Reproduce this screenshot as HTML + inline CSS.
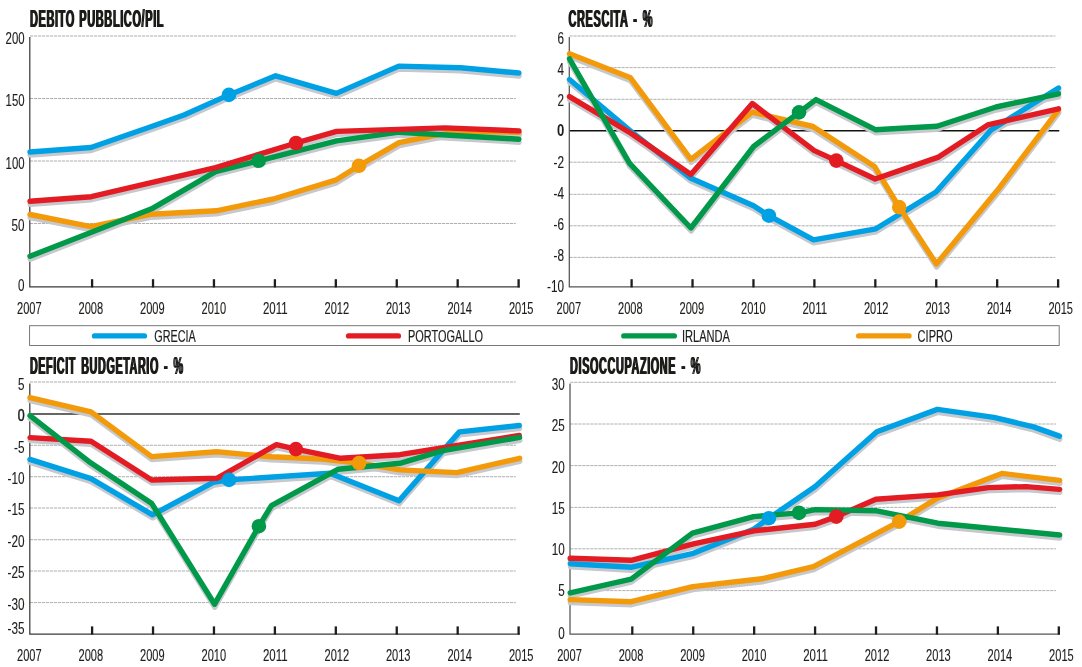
<!DOCTYPE html>
<html lang="it"><head><meta charset="utf-8"><title>Grecia, Portogallo, Irlanda, Cipro</title>
<style>html,body{margin:0;padding:0;background:#fff}svg{display:block;opacity:.999}text{font-family:"Liberation Sans",Arial,Helvetica,sans-serif}</style></head><body>
<svg width="1082" height="667" viewBox="0 0 1082 667">
<defs><filter id="hb" x="-5%" y="-30%" width="110%" height="160%"><feOffset dx="1" dy="0" result="o"/><feMerge><feMergeNode in="SourceGraphic"/><feMergeNode in="o"/></feMerge></filter></defs>
<rect width="1082" height="667" fill="#fff"/>
<line x1="30.0" y1="36.00" x2="515.8" y2="36.00" stroke="#7a7a7a" stroke-width="0.6" stroke-dasharray="3.2 0.8"/>
<line x1="30.0" y1="98.50" x2="515.8" y2="98.50" stroke="#7a7a7a" stroke-width="0.6" stroke-dasharray="3.2 0.8"/>
<line x1="30.0" y1="161.00" x2="515.8" y2="161.00" stroke="#7a7a7a" stroke-width="0.6" stroke-dasharray="3.2 0.8"/>
<line x1="30.0" y1="223.50" x2="515.8" y2="223.50" stroke="#7a7a7a" stroke-width="0.6" stroke-dasharray="3.2 0.8"/>
<path d="M29.80 37.00 V286.80 H519.80" fill="none" stroke="#3a3a39" stroke-width="1.25"/>
<rect x="90.95" y="279.20" width="2.3" height="8.20" fill="#1d1d1b"/>
<rect x="151.88" y="279.20" width="2.3" height="8.20" fill="#1d1d1b"/>
<rect x="212.81" y="279.20" width="2.3" height="8.20" fill="#1d1d1b"/>
<rect x="273.74" y="279.20" width="2.3" height="8.20" fill="#1d1d1b"/>
<rect x="334.67" y="279.20" width="2.3" height="8.20" fill="#1d1d1b"/>
<rect x="395.60" y="279.20" width="2.3" height="8.20" fill="#1d1d1b"/>
<rect x="456.53" y="279.20" width="2.3" height="8.20" fill="#1d1d1b"/>
<rect x="517.46" y="279.20" width="2.3" height="8.20" fill="#1d1d1b"/>
<polyline points="30.0,214.5 90.8,226.6 151.6,214.2 216.3,210.8 273.4,199.0 336.4,179.8 358.9,165.8 399.1,142.7 438.0,134.8 460.0,131.6 518.9,132.2" fill="none" stroke="#c6c8cd" stroke-width="5.4" stroke-linecap="round" stroke-linejoin="round" transform="translate(0.2 3.0)"/>
<polyline points="30.0,152.0 91.0,147.5 153.0,126.0 184.0,115.0 228.9,94.9 275.7,75.8 336.4,93.4 398.8,66.1 460.7,67.8 518.9,73.0" fill="none" stroke="#c6c8cd" stroke-width="5.4" stroke-linecap="round" stroke-linejoin="round" transform="translate(0.2 3.0)"/>
<polyline points="30.0,256.2 151.6,208.8 215.6,171.6 258.7,160.8 336.6,140.8 399.1,132.2 518.9,139.2" fill="none" stroke="#c6c8cd" stroke-width="5.4" stroke-linecap="round" stroke-linejoin="round" transform="translate(0.2 3.0)"/>
<polyline points="30.0,201.2 91.3,196.7 215.6,167.7 296.0,143.0 336.6,131.4 445.0,127.9 518.9,130.9" fill="none" stroke="#c6c8cd" stroke-width="5.4" stroke-linecap="round" stroke-linejoin="round" transform="translate(0.2 3.0)"/>
<polyline points="30.0,214.5 90.8,226.6 151.6,214.2 216.3,210.8 273.4,199.0 336.4,179.8 358.9,165.8 399.1,142.7 438.0,134.8 460.0,131.6 518.9,132.2" fill="none" stroke="#f39a0b" stroke-width="5.4" stroke-linecap="round" stroke-linejoin="round"/>
<polyline points="30.0,152.0 91.0,147.5 153.0,126.0 184.0,115.0 228.9,94.9 275.7,75.8 336.4,93.4 398.8,66.1 460.7,67.8 518.9,73.0" fill="none" stroke="#00a1e4" stroke-width="5.4" stroke-linecap="round" stroke-linejoin="round"/>
<polyline points="30.0,256.2 151.6,208.8 215.6,171.6 258.7,160.8 336.6,140.8 399.1,132.2 518.9,139.2" fill="none" stroke="#009949" stroke-width="5.4" stroke-linecap="round" stroke-linejoin="round"/>
<polyline points="30.0,201.2 91.3,196.7 215.6,167.7 296.0,143.0 336.6,131.4 445.0,127.9 518.9,130.9" fill="none" stroke="#e31b23" stroke-width="5.4" stroke-linecap="round" stroke-linejoin="round"/>
<circle cx="358.9" cy="165.8" r="7.3" fill="#f39a0b"/>
<circle cx="228.9" cy="94.9" r="7.3" fill="#00a1e4"/>
<circle cx="258.7" cy="160.8" r="7.3" fill="#009949"/>
<circle cx="296.0" cy="143.0" r="7.3" fill="#e31b23"/>
<g filter="url(#hb)"><text x="29.4" y="26.7" font-size="23.70" text-anchor="start" font-weight="700" letter-spacing="1.3" word-spacing="1.5" textLength="134.3" lengthAdjust="spacingAndGlyphs" fill="#1a1a18">DEBITO PUBBLICO/PIL</text></g>
<text x="24.6" y="43.8" font-size="15.80" text-anchor="end" textLength="19.0" lengthAdjust="spacingAndGlyphs" stroke="#1d1d1b" stroke-width="0.12" fill="#1d1d1b">200</text>
<text x="24.6" y="106.3" font-size="15.80" text-anchor="end" textLength="19.0" lengthAdjust="spacingAndGlyphs" stroke="#1d1d1b" stroke-width="0.12" fill="#1d1d1b">150</text>
<text x="24.6" y="168.5" font-size="15.80" text-anchor="end" textLength="19.0" lengthAdjust="spacingAndGlyphs" stroke="#1d1d1b" stroke-width="0.12" fill="#1d1d1b">100</text>
<text x="24.6" y="230.5" font-size="15.80" text-anchor="end" textLength="13.0" lengthAdjust="spacingAndGlyphs" stroke="#1d1d1b" stroke-width="0.12" fill="#1d1d1b">50</text>
<text x="24.6" y="291.0" font-size="15.80" text-anchor="end" textLength="6.5" lengthAdjust="spacingAndGlyphs" stroke="#1d1d1b" stroke-width="0.12" fill="#1d1d1b">0</text>
<text x="29.3" y="313.5" font-size="16.00" text-anchor="middle" textLength="24.6" lengthAdjust="spacingAndGlyphs" stroke="#1d1d1b" stroke-width="0.12" fill="#1d1d1b">2007</text>
<text x="90.8" y="313.5" font-size="16.00" text-anchor="middle" textLength="24.6" lengthAdjust="spacingAndGlyphs" stroke="#1d1d1b" stroke-width="0.12" fill="#1d1d1b">2008</text>
<text x="152.3" y="313.5" font-size="16.00" text-anchor="middle" textLength="24.6" lengthAdjust="spacingAndGlyphs" stroke="#1d1d1b" stroke-width="0.12" fill="#1d1d1b">2009</text>
<text x="213.8" y="313.5" font-size="16.00" text-anchor="middle" textLength="24.6" lengthAdjust="spacingAndGlyphs" stroke="#1d1d1b" stroke-width="0.12" fill="#1d1d1b">2010</text>
<text x="275.3" y="313.5" font-size="16.00" text-anchor="middle" textLength="24.6" lengthAdjust="spacingAndGlyphs" stroke="#1d1d1b" stroke-width="0.12" fill="#1d1d1b">2011</text>
<text x="336.8" y="313.5" font-size="16.00" text-anchor="middle" textLength="24.6" lengthAdjust="spacingAndGlyphs" stroke="#1d1d1b" stroke-width="0.12" fill="#1d1d1b">2012</text>
<text x="398.2" y="313.5" font-size="16.00" text-anchor="middle" textLength="24.6" lengthAdjust="spacingAndGlyphs" stroke="#1d1d1b" stroke-width="0.12" fill="#1d1d1b">2013</text>
<text x="459.7" y="313.5" font-size="16.00" text-anchor="middle" textLength="24.6" lengthAdjust="spacingAndGlyphs" stroke="#1d1d1b" stroke-width="0.12" fill="#1d1d1b">2014</text>
<text x="521.2" y="313.5" font-size="16.00" text-anchor="middle" textLength="24.6" lengthAdjust="spacingAndGlyphs" stroke="#1d1d1b" stroke-width="0.12" fill="#1d1d1b">2015</text>
<line x1="569.5" y1="36.00" x2="1055.3" y2="36.00" stroke="#7a7a7a" stroke-width="0.6" stroke-dasharray="3.2 0.8"/>
<line x1="569.5" y1="67.60" x2="1055.3" y2="67.60" stroke="#7a7a7a" stroke-width="0.6" stroke-dasharray="3.2 0.8"/>
<line x1="569.5" y1="99.30" x2="1055.3" y2="99.30" stroke="#7a7a7a" stroke-width="0.6" stroke-dasharray="3.2 0.8"/>
<line x1="569.5" y1="162.20" x2="1055.3" y2="162.20" stroke="#7a7a7a" stroke-width="0.6" stroke-dasharray="3.2 0.8"/>
<line x1="569.5" y1="194.30" x2="1055.3" y2="194.30" stroke="#7a7a7a" stroke-width="0.6" stroke-dasharray="3.2 0.8"/>
<line x1="569.5" y1="225.80" x2="1055.3" y2="225.80" stroke="#7a7a7a" stroke-width="0.6" stroke-dasharray="3.2 0.8"/>
<line x1="569.5" y1="257.40" x2="1055.3" y2="257.40" stroke="#7a7a7a" stroke-width="0.6" stroke-dasharray="3.2 0.8"/>
<line x1="569.5" y1="130.70" x2="1059.3" y2="130.70" stroke="#111110" stroke-width="1.40"/>
<path d="M569.30 37.00 V286.80 H1059.30" fill="none" stroke="#555554" stroke-width="1.25"/>
<rect x="630.45" y="279.20" width="2.3" height="8.20" fill="#1d1d1b"/>
<rect x="691.38" y="279.20" width="2.3" height="8.20" fill="#1d1d1b"/>
<rect x="752.31" y="279.20" width="2.3" height="8.20" fill="#1d1d1b"/>
<rect x="813.24" y="279.20" width="2.3" height="8.20" fill="#1d1d1b"/>
<rect x="874.17" y="279.20" width="2.3" height="8.20" fill="#1d1d1b"/>
<rect x="935.10" y="279.20" width="2.3" height="8.20" fill="#1d1d1b"/>
<rect x="996.03" y="279.20" width="2.3" height="8.20" fill="#1d1d1b"/>
<rect x="1056.96" y="279.20" width="2.3" height="8.20" fill="#1d1d1b"/>
<polyline points="569.5,79.5 630.0,130.5 690.9,178.3 753.6,205.7 768.9,215.7 813.5,239.9 875.9,228.8 936.0,192.0 991.0,130.0 1058.5,88.0" fill="none" stroke="#c6c8cd" stroke-width="5.4" stroke-linecap="round" stroke-linejoin="round" transform="translate(0.2 3.0)"/>
<polyline points="569.5,53.8 630.5,77.8 690.9,159.4 752.3,112.2 813.0,126.5 874.5,166.5 899.2,207.1 936.4,264.0 997.0,190.8 1058.5,110.0" fill="none" stroke="#c6c8cd" stroke-width="5.4" stroke-linecap="round" stroke-linejoin="round" transform="translate(0.2 3.0)"/>
<polyline points="569.5,96.6 630.5,133.0 690.9,174.5 752.3,103.5 814.3,150.6 836.3,160.6 875.1,179.0 937.8,157.4 987.7,124.9 1058.5,108.8" fill="none" stroke="#c6c8cd" stroke-width="5.4" stroke-linecap="round" stroke-linejoin="round" transform="translate(0.2 3.0)"/>
<polyline points="569.5,58.8 629.6,163.3 690.9,228.0 753.6,146.5 799.0,112.4 816.0,99.6 875.3,129.7 937.0,126.3 996.0,107.0 1058.5,93.8" fill="none" stroke="#c6c8cd" stroke-width="5.4" stroke-linecap="round" stroke-linejoin="round" transform="translate(0.2 3.0)"/>
<polyline points="569.5,79.5 630.0,130.5 690.9,178.3 753.6,205.7 768.9,215.7 813.5,239.9 875.9,228.8 936.0,192.0 991.0,130.0 1058.5,88.0" fill="none" stroke="#00a1e4" stroke-width="5.4" stroke-linecap="round" stroke-linejoin="round"/>
<polyline points="569.5,53.8 630.5,77.8 690.9,159.4 752.3,112.2 813.0,126.5 874.5,166.5 899.2,207.1 936.4,264.0 997.0,190.8 1058.5,110.0" fill="none" stroke="#f39a0b" stroke-width="5.4" stroke-linecap="round" stroke-linejoin="round"/>
<polyline points="569.5,96.6 630.5,133.0 690.9,174.5 752.3,103.5 814.3,150.6 836.3,160.6 875.1,179.0 937.8,157.4 987.7,124.9 1058.5,108.8" fill="none" stroke="#e31b23" stroke-width="5.4" stroke-linecap="round" stroke-linejoin="round"/>
<polyline points="569.5,58.8 629.6,163.3 690.9,228.0 753.6,146.5 799.0,112.4 816.0,99.6 875.3,129.7 937.0,126.3 996.0,107.0 1058.5,93.8" fill="none" stroke="#009949" stroke-width="5.4" stroke-linecap="round" stroke-linejoin="round"/>
<circle cx="768.9" cy="215.7" r="7.3" fill="#00a1e4"/>
<circle cx="899.2" cy="207.1" r="7.3" fill="#f39a0b"/>
<circle cx="836.3" cy="160.6" r="7.3" fill="#e31b23"/>
<circle cx="799.0" cy="112.4" r="7.3" fill="#009949"/>
<g filter="url(#hb)"><text x="568.1" y="26.7" font-size="23.70" text-anchor="start" font-weight="700" letter-spacing="1.3" word-spacing="3.5" textLength="84.6" lengthAdjust="spacingAndGlyphs" fill="#1a1a18">CRESCITA - %</text></g>
<text x="564.1" y="43.6" font-size="15.80" text-anchor="end" textLength="6.5" lengthAdjust="spacingAndGlyphs" stroke="#1d1d1b" stroke-width="0.12" fill="#1d1d1b">6</text>
<text x="564.1" y="74.7" font-size="15.80" text-anchor="end" textLength="6.5" lengthAdjust="spacingAndGlyphs" stroke="#1d1d1b" stroke-width="0.12" fill="#1d1d1b">4</text>
<text x="564.1" y="105.7" font-size="15.80" text-anchor="end" textLength="6.5" lengthAdjust="spacingAndGlyphs" stroke="#1d1d1b" stroke-width="0.12" fill="#1d1d1b">2</text>
<text x="564.3" y="136.2" font-size="15.80" text-anchor="end" font-weight="700" textLength="7.3" lengthAdjust="spacingAndGlyphs" fill="#1d1d1b">0</text>
<text x="564.1" y="167.9" font-size="15.80" text-anchor="end" textLength="10.5" lengthAdjust="spacingAndGlyphs" stroke="#1d1d1b" stroke-width="0.12" fill="#1d1d1b">-2</text>
<text x="564.1" y="198.9" font-size="15.80" text-anchor="end" textLength="10.5" lengthAdjust="spacingAndGlyphs" stroke="#1d1d1b" stroke-width="0.12" fill="#1d1d1b">-4</text>
<text x="564.1" y="230.0" font-size="15.80" text-anchor="end" textLength="10.5" lengthAdjust="spacingAndGlyphs" stroke="#1d1d1b" stroke-width="0.12" fill="#1d1d1b">-6</text>
<text x="564.1" y="261.0" font-size="15.80" text-anchor="end" textLength="10.5" lengthAdjust="spacingAndGlyphs" stroke="#1d1d1b" stroke-width="0.12" fill="#1d1d1b">-8</text>
<text x="564.1" y="292.2" font-size="15.80" text-anchor="end" textLength="17.0" lengthAdjust="spacingAndGlyphs" stroke="#1d1d1b" stroke-width="0.12" fill="#1d1d1b">-10</text>
<text x="568.8" y="313.6" font-size="16.00" text-anchor="middle" textLength="24.6" lengthAdjust="spacingAndGlyphs" stroke="#1d1d1b" stroke-width="0.12" fill="#1d1d1b">2007</text>
<text x="630.3" y="313.6" font-size="16.00" text-anchor="middle" textLength="24.6" lengthAdjust="spacingAndGlyphs" stroke="#1d1d1b" stroke-width="0.12" fill="#1d1d1b">2008</text>
<text x="691.8" y="313.6" font-size="16.00" text-anchor="middle" textLength="24.6" lengthAdjust="spacingAndGlyphs" stroke="#1d1d1b" stroke-width="0.12" fill="#1d1d1b">2009</text>
<text x="753.3" y="313.6" font-size="16.00" text-anchor="middle" textLength="24.6" lengthAdjust="spacingAndGlyphs" stroke="#1d1d1b" stroke-width="0.12" fill="#1d1d1b">2010</text>
<text x="814.8" y="313.6" font-size="16.00" text-anchor="middle" textLength="24.6" lengthAdjust="spacingAndGlyphs" stroke="#1d1d1b" stroke-width="0.12" fill="#1d1d1b">2011</text>
<text x="876.2" y="313.6" font-size="16.00" text-anchor="middle" textLength="24.6" lengthAdjust="spacingAndGlyphs" stroke="#1d1d1b" stroke-width="0.12" fill="#1d1d1b">2012</text>
<text x="937.7" y="313.6" font-size="16.00" text-anchor="middle" textLength="24.6" lengthAdjust="spacingAndGlyphs" stroke="#1d1d1b" stroke-width="0.12" fill="#1d1d1b">2013</text>
<text x="999.2" y="313.6" font-size="16.00" text-anchor="middle" textLength="24.6" lengthAdjust="spacingAndGlyphs" stroke="#1d1d1b" stroke-width="0.12" fill="#1d1d1b">2014</text>
<text x="1060.7" y="313.6" font-size="16.00" text-anchor="middle" textLength="24.6" lengthAdjust="spacingAndGlyphs" stroke="#1d1d1b" stroke-width="0.12" fill="#1d1d1b">2015</text>
<line x1="30.0" y1="382.00" x2="515.8" y2="382.00" stroke="#7a7a7a" stroke-width="0.6" stroke-dasharray="3.2 0.8"/>
<line x1="30.0" y1="445.30" x2="515.8" y2="445.30" stroke="#7a7a7a" stroke-width="0.6" stroke-dasharray="3.2 0.8"/>
<line x1="30.0" y1="476.70" x2="515.8" y2="476.70" stroke="#7a7a7a" stroke-width="0.6" stroke-dasharray="3.2 0.8"/>
<line x1="30.0" y1="508.00" x2="515.8" y2="508.00" stroke="#7a7a7a" stroke-width="0.6" stroke-dasharray="3.2 0.8"/>
<line x1="30.0" y1="539.70" x2="515.8" y2="539.70" stroke="#7a7a7a" stroke-width="0.6" stroke-dasharray="3.2 0.8"/>
<line x1="30.0" y1="571.00" x2="515.8" y2="571.00" stroke="#7a7a7a" stroke-width="0.6" stroke-dasharray="3.2 0.8"/>
<line x1="30.0" y1="602.60" x2="515.8" y2="602.60" stroke="#7a7a7a" stroke-width="0.6" stroke-dasharray="3.2 0.8"/>
<line x1="30.0" y1="414.00" x2="519.8" y2="414.00" stroke="#333332" stroke-width="1.70"/>
<path d="M29.80 383.50 V634.00 H519.80" fill="none" stroke="#3a3a39" stroke-width="1.25"/>
<rect x="90.95" y="626.40" width="2.3" height="8.20" fill="#1d1d1b"/>
<rect x="151.88" y="626.40" width="2.3" height="8.20" fill="#1d1d1b"/>
<rect x="212.81" y="626.40" width="2.3" height="8.20" fill="#1d1d1b"/>
<rect x="273.74" y="626.40" width="2.3" height="8.20" fill="#1d1d1b"/>
<rect x="334.67" y="626.40" width="2.3" height="8.20" fill="#1d1d1b"/>
<rect x="395.60" y="626.40" width="2.3" height="8.20" fill="#1d1d1b"/>
<rect x="456.53" y="626.40" width="2.3" height="8.20" fill="#1d1d1b"/>
<rect x="517.46" y="626.40" width="2.3" height="8.20" fill="#1d1d1b"/>
<polyline points="30.0,459.4 91.0,478.6 152.5,514.8 213.2,482.4 229.0,479.9 330.0,473.3 399.0,500.8 459.4,431.9 519.3,425.5" fill="none" stroke="#c6c8cd" stroke-width="5.4" stroke-linecap="round" stroke-linejoin="round" transform="translate(0.2 3.0)"/>
<polyline points="30.0,397.6 91.0,411.9 151.6,456.6 216.5,451.8 271.4,456.8 322.0,459.0 359.1,463.0 399.8,469.9 456.9,472.6 519.6,458.3" fill="none" stroke="#c6c8cd" stroke-width="5.4" stroke-linecap="round" stroke-linejoin="round" transform="translate(0.2 3.0)"/>
<polyline points="30.0,437.6 91.0,441.3 151.6,480.0 217.2,478.2 276.4,444.7 295.9,449.1 340.8,458.3 399.8,454.7 519.3,435.4" fill="none" stroke="#c6c8cd" stroke-width="5.4" stroke-linecap="round" stroke-linejoin="round" transform="translate(0.2 3.0)"/>
<polyline points="30.0,415.7 91.0,463.1 151.8,503.6 214.6,604.2 258.9,526.2 271.4,505.7 338.3,469.2 399.8,463.3 443.0,450.7 519.6,437.4" fill="none" stroke="#c6c8cd" stroke-width="5.4" stroke-linecap="round" stroke-linejoin="round" transform="translate(0.2 3.0)"/>
<polyline points="30.0,459.4 91.0,478.6 152.5,514.8 213.2,482.4 229.0,479.9 330.0,473.3 399.0,500.8 459.4,431.9 519.3,425.5" fill="none" stroke="#00a1e4" stroke-width="5.4" stroke-linecap="round" stroke-linejoin="round"/>
<polyline points="30.0,397.6 91.0,411.9 151.6,456.6 216.5,451.8 271.4,456.8 322.0,459.0 359.1,463.0 399.8,469.9 456.9,472.6 519.6,458.3" fill="none" stroke="#f39a0b" stroke-width="5.4" stroke-linecap="round" stroke-linejoin="round"/>
<polyline points="30.0,437.6 91.0,441.3 151.6,480.0 217.2,478.2 276.4,444.7 295.9,449.1 340.8,458.3 399.8,454.7 519.3,435.4" fill="none" stroke="#e31b23" stroke-width="5.4" stroke-linecap="round" stroke-linejoin="round"/>
<polyline points="30.0,415.7 91.0,463.1 151.8,503.6 214.6,604.2 258.9,526.2 271.4,505.7 338.3,469.2 399.8,463.3 443.0,450.7 519.6,437.4" fill="none" stroke="#009949" stroke-width="5.4" stroke-linecap="round" stroke-linejoin="round"/>
<circle cx="229.0" cy="479.9" r="7.3" fill="#00a1e4"/>
<circle cx="359.1" cy="463.0" r="7.3" fill="#f39a0b"/>
<circle cx="295.9" cy="449.1" r="7.3" fill="#e31b23"/>
<circle cx="258.9" cy="526.2" r="7.3" fill="#009949"/>
<g filter="url(#hb)"><text x="29.4" y="374.0" font-size="23.70" text-anchor="start" font-weight="700" letter-spacing="1.3" word-spacing="3.5" textLength="153.8" lengthAdjust="spacingAndGlyphs" fill="#1a1a18">DEFICIT BUDGETARIO - %</text></g>
<text x="24.6" y="390.2" font-size="15.80" text-anchor="end" textLength="6.5" lengthAdjust="spacingAndGlyphs" stroke="#1d1d1b" stroke-width="0.12" fill="#1d1d1b">5</text>
<text x="24.7" y="421.3" font-size="15.80" text-anchor="end" textLength="6.9" lengthAdjust="spacingAndGlyphs" stroke="#1d1d1b" stroke-width="0.55" fill="#1d1d1b">0</text>
<text x="24.6" y="452.7" font-size="15.80" text-anchor="end" textLength="10.5" lengthAdjust="spacingAndGlyphs" stroke="#1d1d1b" stroke-width="0.12" fill="#1d1d1b">-5</text>
<text x="24.6" y="484.0" font-size="15.80" text-anchor="end" textLength="17.0" lengthAdjust="spacingAndGlyphs" stroke="#1d1d1b" stroke-width="0.12" fill="#1d1d1b">-10</text>
<text x="24.6" y="515.3" font-size="15.80" text-anchor="end" textLength="17.0" lengthAdjust="spacingAndGlyphs" stroke="#1d1d1b" stroke-width="0.12" fill="#1d1d1b">-15</text>
<text x="24.6" y="546.7" font-size="15.80" text-anchor="end" textLength="17.0" lengthAdjust="spacingAndGlyphs" stroke="#1d1d1b" stroke-width="0.12" fill="#1d1d1b">-20</text>
<text x="24.6" y="578.1" font-size="15.80" text-anchor="end" textLength="17.0" lengthAdjust="spacingAndGlyphs" stroke="#1d1d1b" stroke-width="0.12" fill="#1d1d1b">-25</text>
<text x="24.6" y="609.5" font-size="15.80" text-anchor="end" textLength="17.0" lengthAdjust="spacingAndGlyphs" stroke="#1d1d1b" stroke-width="0.12" fill="#1d1d1b">-30</text>
<text x="24.6" y="634.2" font-size="15.80" text-anchor="end" textLength="17.0" lengthAdjust="spacingAndGlyphs" stroke="#1d1d1b" stroke-width="0.12" fill="#1d1d1b">-35</text>
<text x="29.3" y="660.7" font-size="16.00" text-anchor="middle" textLength="24.6" lengthAdjust="spacingAndGlyphs" stroke="#1d1d1b" stroke-width="0.12" fill="#1d1d1b">2007</text>
<text x="90.8" y="660.7" font-size="16.00" text-anchor="middle" textLength="24.6" lengthAdjust="spacingAndGlyphs" stroke="#1d1d1b" stroke-width="0.12" fill="#1d1d1b">2008</text>
<text x="152.3" y="660.7" font-size="16.00" text-anchor="middle" textLength="24.6" lengthAdjust="spacingAndGlyphs" stroke="#1d1d1b" stroke-width="0.12" fill="#1d1d1b">2009</text>
<text x="213.8" y="660.7" font-size="16.00" text-anchor="middle" textLength="24.6" lengthAdjust="spacingAndGlyphs" stroke="#1d1d1b" stroke-width="0.12" fill="#1d1d1b">2010</text>
<text x="275.3" y="660.7" font-size="16.00" text-anchor="middle" textLength="24.6" lengthAdjust="spacingAndGlyphs" stroke="#1d1d1b" stroke-width="0.12" fill="#1d1d1b">2011</text>
<text x="336.8" y="660.7" font-size="16.00" text-anchor="middle" textLength="24.6" lengthAdjust="spacingAndGlyphs" stroke="#1d1d1b" stroke-width="0.12" fill="#1d1d1b">2012</text>
<text x="398.2" y="660.7" font-size="16.00" text-anchor="middle" textLength="24.6" lengthAdjust="spacingAndGlyphs" stroke="#1d1d1b" stroke-width="0.12" fill="#1d1d1b">2013</text>
<text x="459.7" y="660.7" font-size="16.00" text-anchor="middle" textLength="24.6" lengthAdjust="spacingAndGlyphs" stroke="#1d1d1b" stroke-width="0.12" fill="#1d1d1b">2014</text>
<text x="521.2" y="660.7" font-size="16.00" text-anchor="middle" textLength="24.6" lengthAdjust="spacingAndGlyphs" stroke="#1d1d1b" stroke-width="0.12" fill="#1d1d1b">2015</text>
<line x1="570.2" y1="382.30" x2="1056.0" y2="382.30" stroke="#7a7a7a" stroke-width="0.6" stroke-dasharray="3.2 0.8"/>
<line x1="570.2" y1="424.00" x2="1056.0" y2="424.00" stroke="#7a7a7a" stroke-width="0.6" stroke-dasharray="3.2 0.8"/>
<line x1="570.2" y1="465.60" x2="1056.0" y2="465.60" stroke="#7a7a7a" stroke-width="0.6" stroke-dasharray="3.2 0.8"/>
<line x1="570.2" y1="507.40" x2="1056.0" y2="507.40" stroke="#7a7a7a" stroke-width="0.6" stroke-dasharray="3.2 0.8"/>
<line x1="570.2" y1="548.80" x2="1056.0" y2="548.80" stroke="#7a7a7a" stroke-width="0.6" stroke-dasharray="3.2 0.8"/>
<line x1="570.2" y1="590.60" x2="1056.0" y2="590.60" stroke="#7a7a7a" stroke-width="0.6" stroke-dasharray="3.2 0.8"/>
<path d="M570.00 383.50 V634.00 H1060.00" fill="none" stroke="#555554" stroke-width="1.25"/>
<rect x="631.15" y="626.40" width="2.3" height="8.20" fill="#1d1d1b"/>
<rect x="692.08" y="626.40" width="2.3" height="8.20" fill="#1d1d1b"/>
<rect x="753.01" y="626.40" width="2.3" height="8.20" fill="#1d1d1b"/>
<rect x="813.94" y="626.40" width="2.3" height="8.20" fill="#1d1d1b"/>
<rect x="874.87" y="626.40" width="2.3" height="8.20" fill="#1d1d1b"/>
<rect x="935.80" y="626.40" width="2.3" height="8.20" fill="#1d1d1b"/>
<rect x="996.73" y="626.40" width="2.3" height="8.20" fill="#1d1d1b"/>
<rect x="1057.66" y="626.40" width="2.3" height="8.20" fill="#1d1d1b"/>
<polyline points="570.2,563.7 631.9,567.2 693.4,553.3 753.6,529.2 768.9,518.2 815.2,486.6 876.8,431.8 937.4,409.4 993.9,417.3 1033.5,426.9 1059.5,436.1" fill="none" stroke="#c6c8cd" stroke-width="5.4" stroke-linecap="round" stroke-linejoin="round" transform="translate(0.2 3.0)"/>
<polyline points="570.2,599.6 631.2,601.7 692.8,586.6 762.0,578.8 813.5,566.6 899.2,521.6 937.8,497.9 1001.8,473.4 1059.7,480.4" fill="none" stroke="#c6c8cd" stroke-width="5.4" stroke-linecap="round" stroke-linejoin="round" transform="translate(0.2 3.0)"/>
<polyline points="570.2,558.3 631.2,560.3 693.5,543.8 754.0,530.8 815.2,524.2 836.3,516.6 875.9,499.2 937.8,494.9 988.5,487.6 1026.0,486.6 1059.7,489.4" fill="none" stroke="#c6c8cd" stroke-width="5.4" stroke-linecap="round" stroke-linejoin="round" transform="translate(0.2 3.0)"/>
<polyline points="570.2,592.9 631.2,579.1 692.4,533.2 753.6,516.6 799.0,512.9 815.2,509.6 876.7,510.8 937.8,523.2 1059.7,535.0" fill="none" stroke="#c6c8cd" stroke-width="5.4" stroke-linecap="round" stroke-linejoin="round" transform="translate(0.2 3.0)"/>
<polyline points="570.2,563.7 631.9,567.2 693.4,553.3 753.6,529.2 768.9,518.2 815.2,486.6 876.8,431.8 937.4,409.4 993.9,417.3 1033.5,426.9 1059.5,436.1" fill="none" stroke="#00a1e4" stroke-width="5.4" stroke-linecap="round" stroke-linejoin="round"/>
<polyline points="570.2,599.6 631.2,601.7 692.8,586.6 762.0,578.8 813.5,566.6 899.2,521.6 937.8,497.9 1001.8,473.4 1059.7,480.4" fill="none" stroke="#f39a0b" stroke-width="5.4" stroke-linecap="round" stroke-linejoin="round"/>
<polyline points="570.2,558.3 631.2,560.3 693.5,543.8 754.0,530.8 815.2,524.2 836.3,516.6 875.9,499.2 937.8,494.9 988.5,487.6 1026.0,486.6 1059.7,489.4" fill="none" stroke="#e31b23" stroke-width="5.4" stroke-linecap="round" stroke-linejoin="round"/>
<polyline points="570.2,592.9 631.2,579.1 692.4,533.2 753.6,516.6 799.0,512.9 815.2,509.6 876.7,510.8 937.8,523.2 1059.7,535.0" fill="none" stroke="#009949" stroke-width="5.4" stroke-linecap="round" stroke-linejoin="round"/>
<circle cx="768.9" cy="518.2" r="7.3" fill="#00a1e4"/>
<circle cx="899.2" cy="521.6" r="7.3" fill="#f39a0b"/>
<circle cx="836.3" cy="516.6" r="7.3" fill="#e31b23"/>
<circle cx="799.0" cy="512.9" r="7.3" fill="#009949"/>
<g filter="url(#hb)"><text x="569.6" y="374.0" font-size="23.70" text-anchor="start" font-weight="700" letter-spacing="1.3" word-spacing="3.5" textLength="131.0" lengthAdjust="spacingAndGlyphs" fill="#1a1a18">DISOCCUPAZIONE - %</text></g>
<text x="564.8" y="390.2" font-size="15.80" text-anchor="end" textLength="13.0" lengthAdjust="spacingAndGlyphs" stroke="#1d1d1b" stroke-width="0.12" fill="#1d1d1b">30</text>
<text x="564.8" y="431.4" font-size="15.80" text-anchor="end" textLength="13.0" lengthAdjust="spacingAndGlyphs" stroke="#1d1d1b" stroke-width="0.12" fill="#1d1d1b">25</text>
<text x="564.8" y="472.5" font-size="15.80" text-anchor="end" textLength="13.0" lengthAdjust="spacingAndGlyphs" stroke="#1d1d1b" stroke-width="0.12" fill="#1d1d1b">20</text>
<text x="564.8" y="513.7" font-size="15.80" text-anchor="end" textLength="13.0" lengthAdjust="spacingAndGlyphs" stroke="#1d1d1b" stroke-width="0.12" fill="#1d1d1b">15</text>
<text x="564.8" y="554.8" font-size="15.80" text-anchor="end" textLength="13.0" lengthAdjust="spacingAndGlyphs" stroke="#1d1d1b" stroke-width="0.12" fill="#1d1d1b">10</text>
<text x="564.8" y="595.9" font-size="15.80" text-anchor="end" textLength="6.5" lengthAdjust="spacingAndGlyphs" stroke="#1d1d1b" stroke-width="0.12" fill="#1d1d1b">5</text>
<text x="564.8" y="639.2" font-size="15.80" text-anchor="end" textLength="6.5" lengthAdjust="spacingAndGlyphs" stroke="#1d1d1b" stroke-width="0.12" fill="#1d1d1b">0</text>
<text x="569.5" y="660.7" font-size="16.00" text-anchor="middle" textLength="24.6" lengthAdjust="spacingAndGlyphs" stroke="#1d1d1b" stroke-width="0.12" fill="#1d1d1b">2007</text>
<text x="631.0" y="660.7" font-size="16.00" text-anchor="middle" textLength="24.6" lengthAdjust="spacingAndGlyphs" stroke="#1d1d1b" stroke-width="0.12" fill="#1d1d1b">2008</text>
<text x="692.5" y="660.7" font-size="16.00" text-anchor="middle" textLength="24.6" lengthAdjust="spacingAndGlyphs" stroke="#1d1d1b" stroke-width="0.12" fill="#1d1d1b">2009</text>
<text x="754.0" y="660.7" font-size="16.00" text-anchor="middle" textLength="24.6" lengthAdjust="spacingAndGlyphs" stroke="#1d1d1b" stroke-width="0.12" fill="#1d1d1b">2010</text>
<text x="815.5" y="660.7" font-size="16.00" text-anchor="middle" textLength="24.6" lengthAdjust="spacingAndGlyphs" stroke="#1d1d1b" stroke-width="0.12" fill="#1d1d1b">2011</text>
<text x="877.0" y="660.7" font-size="16.00" text-anchor="middle" textLength="24.6" lengthAdjust="spacingAndGlyphs" stroke="#1d1d1b" stroke-width="0.12" fill="#1d1d1b">2012</text>
<text x="938.4" y="660.7" font-size="16.00" text-anchor="middle" textLength="24.6" lengthAdjust="spacingAndGlyphs" stroke="#1d1d1b" stroke-width="0.12" fill="#1d1d1b">2013</text>
<text x="999.9" y="660.7" font-size="16.00" text-anchor="middle" textLength="24.6" lengthAdjust="spacingAndGlyphs" stroke="#1d1d1b" stroke-width="0.12" fill="#1d1d1b">2014</text>
<text x="1061.4" y="660.7" font-size="16.00" text-anchor="middle" textLength="24.6" lengthAdjust="spacingAndGlyphs" stroke="#1d1d1b" stroke-width="0.12" fill="#1d1d1b">2015</text>
<rect x="29.6" y="325.7" width="1029.6" height="19.8" fill="#fff" stroke="#6a6a6a" stroke-width="0.9"/>
<line x1="94.5" y1="335.9" x2="144.4" y2="335.9" stroke="#00a1e4" stroke-width="5.4" stroke-linecap="round"/>
<text x="154.3" y="341.8" font-size="16.80" text-anchor="start" textLength="41.5" lengthAdjust="spacingAndGlyphs" stroke="#1d1d1b" stroke-width="0.20" fill="#1d1d1b">GRECIA</text>
<line x1="348.6" y1="335.9" x2="398.4" y2="335.9" stroke="#e31b23" stroke-width="5.4" stroke-linecap="round"/>
<text x="408.0" y="341.8" font-size="16.80" text-anchor="start" textLength="75.0" lengthAdjust="spacingAndGlyphs" stroke="#1d1d1b" stroke-width="0.20" fill="#1d1d1b">PORTOGALLO</text>
<line x1="623.8" y1="335.9" x2="674.3" y2="335.9" stroke="#009949" stroke-width="5.4" stroke-linecap="round"/>
<text x="682.0" y="341.8" font-size="16.80" text-anchor="start" textLength="48.0" lengthAdjust="spacingAndGlyphs" stroke="#1d1d1b" stroke-width="0.20" fill="#1d1d1b">IRLANDA</text>
<line x1="858.7" y1="335.9" x2="909.0" y2="335.9" stroke="#f39a0b" stroke-width="5.4" stroke-linecap="round"/>
<text x="917.6" y="341.8" font-size="16.80" text-anchor="start" textLength="35.0" lengthAdjust="spacingAndGlyphs" stroke="#1d1d1b" stroke-width="0.20" fill="#1d1d1b">CIPRO</text>
</svg></body></html>
